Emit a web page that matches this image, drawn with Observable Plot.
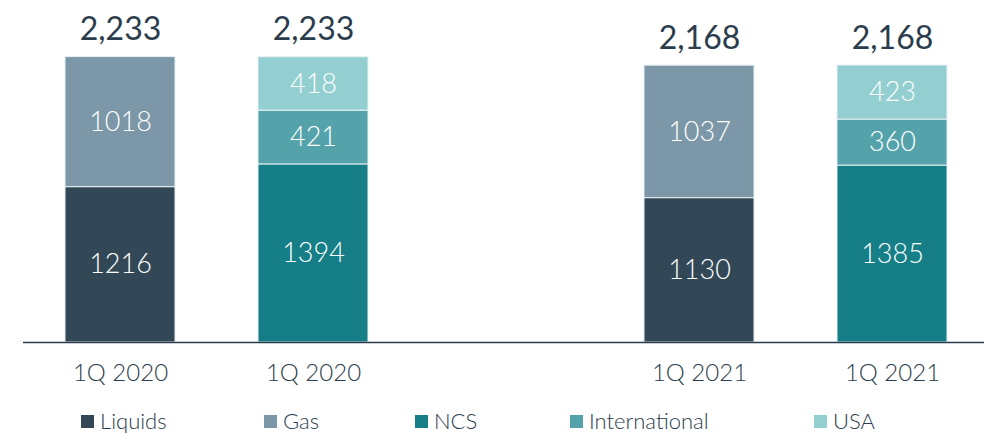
<!DOCTYPE html>
<html>
<head>
<meta charset="utf-8">
<script src="https://cdn.jsdelivr.net/npm/d3@7"></script>
<script src="https://cdn.jsdelivr.net/npm/@observablehq/plot@0.6"></script>
<style>
  html, body { margin: 0; padding: 0; background: #fff; }
  #wrap { width: 984px; height: 435px; position: relative; font-family: Lato, "Open Sans", sans-serif; color: #2b3d4c; }
  #legend { position: absolute; left: 0; top: 409px; width: 984px; height: 24px; }
  .item { position: absolute; top: 0; display: flex; align-items: center; font-size: 22px; line-height: 24px; height: 24px; white-space: nowrap; font-weight: 300; }
  .sw { width: 13px; height: 13px; margin-right: 6px; display: inline-block; }
</style>
</head>
<body>
<div id="wrap"><div id="chart"></div><div id="legend"></div></div>
<script>
// ---- data ----
const slotKeys = ["b1", "b2", "gap", "b3", "b4"];
const slotLabels = ["1Q 2020", "1Q 2020", "", "1Q 2021", "1Q 2021"];
const barKeys = ["b1", "b2", "b3", "b4"];
const seriesNames = ["Liquids", "Gas", "NCS", "International", "USA"];
const liquids = [1216, 0, 1130, 0];
const gas = [1018, 0, 1037, 0];
const ncs = [0, 1394, 0, 1385];
const international = [0, 421, 0, 360];
const usa = [0, 418, 0, 423];
const totals = [2233, 2233, 2168, 2168];
const seriesColors = ["#324856", "#7b97a8", "#167e86", "#55a3aa", "#93cfd0"];
const legendLeft = [81, 264, 415, 570, 814];

// ---- build table ----
const seriesValues = [liquids, gas, ncs, international, usa];
const rows = [];
barKeys.forEach((k, i) => {
  seriesNames.forEach((s, j) => {
    const v = seriesValues[j][i];
    if (v > 0) rows.push({key: k, series: s, value: v});
  });
});
const totalRows = barKeys.map((k, i) => ({key: k, total: totals[i]}));
const labelOf = Object.fromEntries(slotKeys.map((k, i) => [k, slotLabels[i]]));

const dark = "#2b3d4c";
const chart = Plot.plot({
  width: 984,
  height: 395,
  marginLeft: 23,
  marginRight: 0,
  marginTop: 0,
  marginBottom: 53,
  style: {fontFamily: "Lato, 'Open Sans', sans-serif", background: "#fff", color: dark, overflow: "visible"},
  x: {domain: slotKeys, range: [64.5, 948.5], paddingInner: 0.428, paddingOuter: 0, label: null,
      tickFormat: d => labelOf[d], tickSize: 0, tickPadding: 21, fontSize: 24},
  y: {domain: [0, 2677], axis: null},
  color: {domain: seriesNames, range: seriesColors},
  marks: [
    Plot.barY(rows, Plot.stackY({x: "key", y: "value", z: "series", fill: "series", order: seriesNames,
      stroke: "#e8f0f2", strokeWidth: 1, inset: 0})),
    Plot.text(rows, Plot.stackY({x: "key", y: "value", z: "series", order: seriesNames,
      text: d => String(d.value), fill: "white", fontSize: 27, fontWeight: 300})),
    Plot.text(totalRows, {x: "key", y: "total", text: d => d3.format(",")(d.total), dy: -27,
      fill: dark, fontSize: 32, fontWeight: 400}),
    Plot.ruleY([0], {stroke: dark, strokeWidth: 1.5})
  ]
});
const xax = chart.querySelector("g[aria-label='x-axis tick label']");
if (xax) { xax.setAttribute("font-size", 24); xax.setAttribute("fill", dark); xax.setAttribute("font-weight", 300); }
document.getElementById("chart").appendChild(chart);

const legend = document.getElementById("legend");
seriesNames.forEach((s, i) => {
  const it = document.createElement("div");
  it.className = "item";
  it.style.left = legendLeft[i] + "px";
  const sw = document.createElement("span");
  sw.className = "sw";
  sw.style.background = seriesColors[i];
  it.appendChild(sw);
  it.appendChild(document.createTextNode(s));
  legend.appendChild(it);
});
</script>
</body>
</html>
